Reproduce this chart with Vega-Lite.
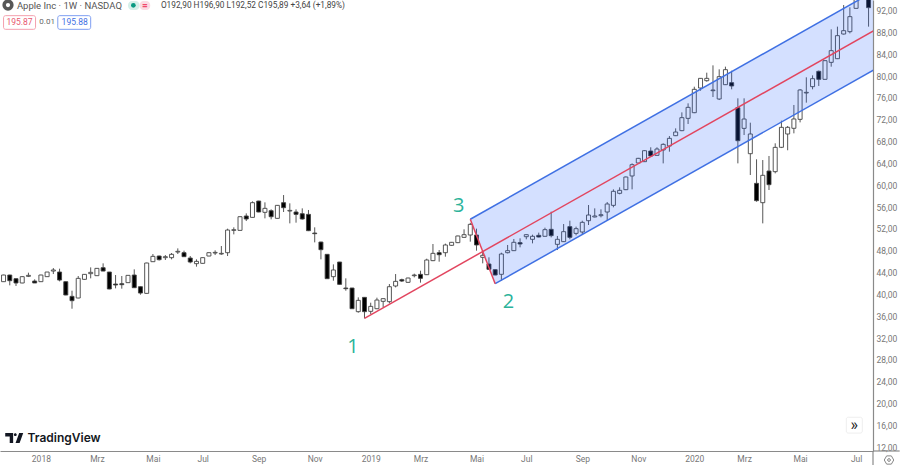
{
  "$schema": "https://vega.github.io/schema/vega-lite/v6.json",
  "width": 873, "height": 451,
  "autosize": "none",
  "padding": {"left": 0, "top": 0, "right": 27, "bottom": 14},
  "background": "#ffffff",
  "view": {"stroke": null},
  "config": {"font": "Roboto"},
  "datasets": {
    "candles": [
      {"date":"2017-11-20","open":42.33,"high":43.6,"low":42.3,"close":43.55},
      {"date":"2017-11-27","open":43.55,"high":43.6,"low":41.66,"close":42.51},
      {"date":"2017-12-04","open":42.88,"high":42.9,"low":41.54,"close":42.09},
      {"date":"2017-12-11","open":42.09,"high":43.3,"low":42.05,"close":43.25},
      {"date":"2017-12-18","open":43.31,"high":43.98,"low":43.18,"close":43.49},
      {"date":"2017-12-25","open":42.45,"high":42.76,"low":42.09,"close":42.09},
      {"date":"2018-01-01","open":42.33,"high":43.6,"low":42.3,"close":43.55},
      {"date":"2018-01-08","open":43.25,"high":44.1,"low":43.2,"close":44.1},
      {"date":"2018-01-15","open":44.28,"high":44.83,"low":43.73,"close":44.47},
      {"date":"2018-01-22","open":44.1,"high":44.71,"low":42.39,"close":42.63},
      {"date":"2018-01-29","open":42.33,"high":42.35,"low":39.85,"close":39.89},
      {"date":"2018-02-05","open":39.64,"high":40.68,"low":37.38,"close":38.85},
      {"date":"2018-02-12","open":39.34,"high":43.37,"low":39.3,"close":42.94},
      {"date":"2018-02-19","open":42.76,"high":43.7,"low":42.7,"close":43.67},
      {"date":"2018-02-26","open":43.8,"high":44.95,"low":42.94,"close":44.04},
      {"date":"2018-03-05","open":43.43,"high":44.8,"low":43.4,"close":44.77},
      {"date":"2018-03-12","open":44.89,"high":45.69,"low":44.25,"close":44.28},
      {"date":"2018-03-19","open":44.1,"high":44.12,"low":40.95,"close":40.99},
      {"date":"2018-03-26","open":41.9,"high":43.55,"low":41.11,"close":41.72},
      {"date":"2018-04-02","open":41.96,"high":43.37,"low":41.05,"close":41.78},
      {"date":"2018-04-09","open":42.15,"high":43.5,"low":42.1,"close":43.49},
      {"date":"2018-04-16","open":43.55,"high":44.59,"low":41.2,"close":41.23},
      {"date":"2018-04-23","open":41.41,"high":41.45,"low":39.95,"close":40.25},
      {"date":"2018-04-30","open":40.19,"high":45.8,"low":40.15,"close":45.75},
      {"date":"2018-05-07","open":45.99,"high":47.4,"low":45.95,"close":46.97},
      {"date":"2018-05-14","open":47.03,"high":47.1,"low":46.2,"close":46.36},
      {"date":"2018-05-21","open":46.73,"high":47.21,"low":46.3,"close":46.91},
      {"date":"2018-05-28","open":46.73,"high":47.58,"low":46.42,"close":47.34},
      {"date":"2018-06-04","open":47.76,"high":48.43,"low":47.4,"close":47.89},
      {"date":"2018-06-11","open":47.64,"high":48.01,"low":46.9,"close":46.91},
      {"date":"2018-06-18","open":46.66,"high":47.03,"low":45.69,"close":45.93},
      {"date":"2018-06-25","open":45.63,"high":46.42,"low":45.08,"close":46.05},
      {"date":"2018-07-02","open":45.69,"high":46.75,"low":45.65,"close":46.73},
      {"date":"2018-07-09","open":47.03,"high":47.7,"low":47,"close":47.64},
      {"date":"2018-07-16","open":47.58,"high":48.07,"low":47.21,"close":47.7},
      {"date":"2018-07-23","open":47.4,"high":48.86,"low":47.27,"close":47.52},
      {"date":"2018-07-30","open":47.64,"high":52.04,"low":47.03,"close":51.79},
      {"date":"2018-08-06","open":51.73,"high":52.28,"low":51,"close":51.85},
      {"date":"2018-08-13","open":51.73,"high":54.3,"low":51.7,"close":54.23},
      {"date":"2018-08-20","open":54.36,"high":54.84,"low":53.44,"close":53.81},
      {"date":"2018-08-27","open":54.11,"high":57.04,"low":54.1,"close":56.8},
      {"date":"2018-09-03","open":57.1,"high":57.15,"low":55.05,"close":55.09},
      {"date":"2018-09-10","open":55.03,"high":56.86,"low":53.93,"close":55.76},
      {"date":"2018-09-17","open":55.33,"high":55.58,"low":53.75,"close":54.23},
      {"date":"2018-09-24","open":53.93,"high":56.35,"low":53.9,"close":56.31},
      {"date":"2018-10-01","open":56.8,"high":58.2,"low":55.09,"close":55.88},
      {"date":"2018-10-08","open":55.27,"high":56.68,"low":53.01,"close":55.39},
      {"date":"2018-10-15","open":55.09,"high":55.58,"low":53.14,"close":54.66},
      {"date":"2018-10-22","open":54.78,"high":55.76,"low":53.7,"close":53.81},
      {"date":"2018-10-29","open":54.66,"high":55.46,"low":51.6,"close":51.67},
      {"date":"2018-11-05","open":51.24,"high":52.28,"low":49.53,"close":51.12},
      {"date":"2018-11-12","open":49.59,"high":49.65,"low":46.42,"close":48.19},
      {"date":"2018-11-19","open":47.34,"high":47.4,"low":42.85,"close":42.88},
      {"date":"2018-11-26","open":43.25,"high":45.5,"low":42.51,"close":44.47},
      {"date":"2018-12-03","open":45.93,"high":45.95,"low":41.8,"close":41.84},
      {"date":"2018-12-10","open":41.17,"high":42.94,"low":40.68,"close":41.05},
      {"date":"2018-12-17","open":41.17,"high":41.2,"low":37.35,"close":37.38},
      {"date":"2018-12-24","open":36.84,"high":39.46,"low":36.65,"close":38.91},
      {"date":"2018-12-31","open":39.46,"high":39.5,"low":35.61,"close":36.84},
      {"date":"2019-01-07","open":36.9,"high":38.48,"low":36.41,"close":37.81},
      {"date":"2019-01-14","open":37.38,"high":39.4,"low":37.3,"close":38.97},
      {"date":"2019-01-21","open":38.73,"high":39.25,"low":37.63,"close":39.22},
      {"date":"2019-01-28","open":38.67,"high":41.9,"low":38.36,"close":41.41},
      {"date":"2019-02-04","open":41.54,"high":43.73,"low":41.29,"close":42.39},
      {"date":"2019-02-11","open":42.7,"high":42.88,"low":42.27,"close":42.45},
      {"date":"2019-02-18","open":42.21,"high":43.05,"low":42.15,"close":43},
      {"date":"2019-02-25","open":43.43,"high":43.8,"low":43.12,"close":43.55},
      {"date":"2019-03-04","open":43.67,"high":44.34,"low":42.15,"close":42.94},
      {"date":"2019-03-11","open":43.61,"high":46.54,"low":43.55,"close":46.3},
      {"date":"2019-03-18","open":46.18,"high":49.23,"low":46.1,"close":47.52},
      {"date":"2019-03-25","open":47.64,"high":48.13,"low":45.99,"close":47.27},
      {"date":"2019-04-01","open":47.64,"high":49.3,"low":46.91,"close":49.05},
      {"date":"2019-04-08","open":48.99,"high":49.6,"low":48.9,"close":49.54},
      {"date":"2019-04-15","open":49.48,"high":50.75,"low":49.4,"close":50.7},
      {"date":"2019-04-22","open":50.45,"high":51.92,"low":50.4,"close":50.94},
      {"date":"2019-04-29","open":50.88,"high":53.1,"low":49.66,"close":52.83},
      {"date":"2019-05-06","open":50.88,"high":52.04,"low":48.01,"close":49.05},
      {"date":"2019-05-13","open":46.79,"high":47.83,"low":45.69,"close":47.16},
      {"date":"2019-05-20","open":45.57,"high":46.79,"low":44.55,"close":44.59},
      {"date":"2019-05-27","open":44.53,"high":44.6,"low":43.5,"close":43.55},
      {"date":"2019-06-03","open":43.68,"high":47.64,"low":42.52,"close":47.4},
      {"date":"2019-06-10","open":47.64,"high":49.05,"low":47.52,"close":48.01},
      {"date":"2019-06-17","open":48.01,"high":50.15,"low":47.95,"close":49.54},
      {"date":"2019-06-24","open":49.48,"high":50.27,"low":48.62,"close":49.23},
      {"date":"2019-07-01","open":50.57,"high":51,"low":50.09,"close":50.94},
      {"date":"2019-07-08","open":50.09,"high":50.94,"low":49.35,"close":50.64},
      {"date":"2019-07-15","open":50.82,"high":51.31,"low":50.45,"close":50.51},
      {"date":"2019-07-22","open":50.64,"high":52.22,"low":50.6,"close":51.86},
      {"date":"2019-07-29","open":51.92,"high":55.15,"low":50.45,"close":50.76},
      {"date":"2019-08-05","open":49.17,"high":50.7,"low":48.13,"close":50.09},
      {"date":"2019-08-12","open":49.66,"high":52.89,"low":49.6,"close":51.49},
      {"date":"2019-08-19","open":52.41,"high":53.5,"low":50.09,"close":50.45},
      {"date":"2019-08-26","open":51.18,"high":52.41,"low":50.82,"close":52.04},
      {"date":"2019-09-02","open":51.43,"high":53.5,"low":51.06,"close":53.2},
      {"date":"2019-09-09","open":53.5,"high":56.37,"low":52.71,"close":54.54},
      {"date":"2019-09-16","open":54.18,"high":55.76,"low":54.11,"close":54.36},
      {"date":"2019-09-23","open":54.42,"high":55.58,"low":54.11,"close":54.6},
      {"date":"2019-09-30","open":55.09,"high":56.92,"low":53.5,"close":56.56},
      {"date":"2019-10-07","open":56.31,"high":59.24,"low":55.95,"close":58.88},
      {"date":"2019-10-14","open":58.51,"high":59.61,"low":58.33,"close":59.06},
      {"date":"2019-10-21","open":59.18,"high":61.6,"low":59.1,"close":61.5},
      {"date":"2019-10-28","open":61.69,"high":64,"low":59.24,"close":63.76},
      {"date":"2019-11-04","open":64.07,"high":65,"low":64,"close":64.92},
      {"date":"2019-11-11","open":64.31,"high":66.4,"low":64.25,"close":66.32},
      {"date":"2019-11-18","open":66.26,"high":66.94,"low":65.3,"close":65.35},
      {"date":"2019-11-25","open":65.47,"high":66.94,"low":65.4,"close":66.63},
      {"date":"2019-12-02","open":66.45,"high":67.67,"low":64,"close":67.48},
      {"date":"2019-12-09","open":67.18,"high":69,"low":66.14,"close":68.58},
      {"date":"2019-12-16","open":69.07,"high":70.41,"low":69,"close":69.74},
      {"date":"2019-12-23","open":69.99,"high":73.34,"low":69.9,"close":72.37},
      {"date":"2019-12-30","open":72.24,"high":74.99,"low":71.21,"close":74.26},
      {"date":"2020-01-06","open":73.28,"high":78.04,"low":73.2,"close":77.56},
      {"date":"2020-01-13","open":77.8,"high":79.6,"low":77.31,"close":79.57},
      {"date":"2020-01-20","open":79.14,"high":80.61,"low":78.96,"close":79.57},
      {"date":"2020-01-27","open":77.31,"high":81.95,"low":76.15,"close":77.43},
      {"date":"2020-02-03","open":75.79,"high":81.22,"low":75.6,"close":79.88},
      {"date":"2020-02-10","open":78.41,"high":81.71,"low":78.35,"close":81.16},
      {"date":"2020-02-17","open":78.78,"high":80.97,"low":77.56,"close":78.17},
      {"date":"2020-02-24","open":74.2,"high":75.91,"low":64,"close":68.15},
      {"date":"2020-03-02","open":70.41,"high":75.91,"low":69.19,"close":72.12},
      {"date":"2020-03-09","open":65.77,"high":71.45,"low":61.87,"close":69.38},
      {"date":"2020-03-16","open":60.34,"high":64.74,"low":56.98,"close":57.17},
      {"date":"2020-03-23","open":56.8,"high":64.61,"low":53.01,"close":61.81},
      {"date":"2020-03-30","open":62.6,"high":65.35,"low":59.12,"close":60.1},
      {"date":"2020-04-06","open":62.48,"high":67.67,"low":62.17,"close":66.93},
      {"date":"2020-04-13","open":66.94,"high":71.82,"low":66.8,"close":70.6},
      {"date":"2020-04-20","open":69.38,"high":70.84,"low":66.4,"close":70.6},
      {"date":"2020-04-27","open":70.42,"high":74.69,"low":69.5,"close":72.13},
      {"date":"2020-05-04","open":72.06,"high":77.6,"low":71.51,"close":77.44},
      {"date":"2020-05-11","open":76.89,"high":79.76,"low":75.12,"close":77.01},
      {"date":"2020-05-18","open":78.05,"high":80.12,"low":77.56,"close":79.51},
      {"date":"2020-05-25","open":80.86,"high":81,"low":78.17,"close":79.39},
      {"date":"2020-06-01","open":79.39,"high":82.85,"low":79.35,"close":82.81},
      {"date":"2020-06-08","open":82.5,"high":88.55,"low":81.71,"close":84.64},
      {"date":"2020-06-15","open":83.17,"high":89.04,"low":83.1,"close":87.39},
      {"date":"2020-06-22","open":87.69,"high":93,"low":87.6,"close":88.3},
      {"date":"2020-06-29","open":88.12,"high":92.58,"low":87.81,"close":90.87},
      {"date":"2020-07-06","open":92.39,"high":95,"low":92.39,"close":94.5},
      {"date":"2020-07-13","open":94.6,"high":97,"low":94.3,"close":96},
      {"date":"2020-07-20","open":94.8,"high":95.5,"low":89.04,"close":92.52}
    ],
    "band": [
      {"date":"2019-04-29","upper":53.76,"lower":53.76},
      {"date":"2019-05-27","upper":56.34,"lower":41.96},
      {"date":"2020-07-27","upper":95.59,"lower":81.23}
    ],
    "bluelines": [
      {"line":"upper","date":"2019-04-29","price":53.76},
      {"line":"upper","date":"2020-07-27","price":95.59},
      {"line":"lower","date":"2019-05-27","price":41.96},
      {"line":"lower","date":"2020-07-27","price":81.23}
    ],
    "redlines": [
      {"line":"median","date":"2018-12-31","price":35.62},
      {"line":"median","date":"2020-07-27","price":88.41},
      {"line":"edge","date":"2019-04-29","price":53.76},
      {"line":"edge","date":"2019-05-27","price":41.96}
    ]
  },
  "encoding": {
    "x": {
      "field": "date", "type": "temporal",
      "scale": {"type": "utc", "domain": ["2017-11-16", "2020-07-25"], "nice": false, "padding": 0},
      "axis": {
        "title": null, "grid": false, "ticks": false, "domainColor": "#8a8a8a", "domainWidth": 1.2,
        "labelColor": "#777777", "labelFontSize": 8.5, "labelPadding": 3, "labelFlush": false, "labelOverlap": false,
        "values": ["2018-01-01","2018-03-05","2018-05-07","2018-07-02","2018-09-03","2018-11-05","2019-01-07","2019-03-04","2019-05-06","2019-07-01","2019-09-02","2019-11-04","2020-01-06","2020-03-02","2020-05-04","2020-07-06"],
        "labelExpr": "utcmonth(datum.value)==0 ? utcyear(datum.value)+'' : ['','','Mrz','','Mai','','Jul','','Sep','','Nov'][utcmonth(datum.value)]"
      }
    },
    "y": {
      "field": "price", "type": "quantitative",
      "scale": {"domain": [11.32, 93.92], "nice": false, "zero": false},
      "axis": {
        "orient": "right", "title": null, "grid": false, "ticks": false, "domainColor": "#8a8a8a", "domainWidth": 1.2,
        "labelColor": "#777777", "labelFontSize": 8.5, "labelPadding": 3, "labelFlush": false, "labelOverlap": false,
        "values": [12,16,20,24,28,32,36,40,44,48,52,56,60,64,68,72,76,80,84,88,92],
        "labelExpr": "replace(format(datum.value,'.2f'),'.',',')"
      }
    }
  },
  "layer": [
    {
      "data": {"name": "candles"},
      "mark": {"type": "rule", "color": "#444444", "strokeWidth": 0.9, "clip": true},
      "encoding": {
        "y": {"field": "low", "type": "quantitative", "scale": {"domain": [11.32, 93.92], "nice": false, "zero": false}, "title": null},
        "y2": {"field": "high"}
      }
    },
    {
      "data": {"name": "candles"},
      "mark": {"type": "bar", "size": 4, "stroke": "#444444", "strokeWidth": 0.9, "clip": true},
      "encoding": {
        "y": {"field": "open", "type": "quantitative", "scale": {"domain": [11.32, 93.92], "nice": false, "zero": false}, "title": null},
        "y2": {"field": "close"},
        "fill": {"condition": {"test": "datum.close >= datum.open", "value": "#ffffff"}, "value": "#000000"}
      }
    },
    {
      "data": {"name": "band"},
      "mark": {"type": "area", "color": "#2962ff", "opacity": 0.2, "clip": true},
      "encoding": {
        "y": {"field": "upper", "type": "quantitative", "scale": {"domain": [11.32, 93.92], "nice": false, "zero": false}, "title": null},
        "y2": {"field": "lower"}
      }
    },
    {
      "data": {"name": "bluelines"},
      "mark": {"type": "line", "color": "#3f70e3", "strokeWidth": 1.5, "clip": true},
      "encoding": {"detail": {"field": "line"}}
    },
    {
      "data": {"name": "redlines"},
      "mark": {"type": "line", "color": "#e2455f", "strokeWidth": 1.5, "clip": true},
      "encoding": {"detail": {"field": "line"}}
    },
    {
      "data": {"values": [
        {"date":"2018-12-18","price":30.4,"label":"1"},
        {"date":"2019-06-11","price":38.65,"label":"2"},
        {"date":"2019-04-16","price":56.25,"label":"3"}
      ]},
      "mark": {"type": "text", "font": "Open Sans", "fontSize": 20, "color": "#2bb39a"},
      "encoding": {"text": {"field": "label"}}
    },
    {
      "data": {"values": [{"date":"2017-12-05","price":92.82,"label":"Apple Inc · 1W · NASDAQ"}]},
      "mark": {"type": "text", "align": "left", "fontSize": 9.5, "color": "#555555"},
      "encoding": {"text": {"field": "label"}}
    },
    {
      "data": {"values": [{"date":"2018-05-16","price":92.82,"label":"O192,90  H196,90  L192,52  C195,89  +3,64 (+1,89%)"}]},
      "mark": {"type": "text", "align": "left", "fontSize": 8.3, "color": "#444444"},
      "encoding": {"text": {"field": "label"}}
    },
    {
      "data": {"values": [{"date":"2017-11-25","price":93}]},
      "mark": {"type": "point", "filled": false, "stroke": "#111111", "strokeWidth": 3.5, "size": 60}
    },
    {
      "data": {"values": [{"date":"2018-04-09","date2":"2018-04-22","price":93.74,"price2":92.09}]},
      "mark": {"type": "rect", "color": "#d5efe9", "cornerRadius": 4},
      "encoding": {"x2": {"field": "date2"}, "y2": {"field": "price2"}}
    },
    {
      "data": {"values": [{"date":"2018-04-22","date2":"2018-05-04","price":93.74,"price2":92.09}]},
      "mark": {"type": "rect", "color": "#fbdbe3", "cornerRadius": 4},
      "encoding": {"x2": {"field": "date2"}, "y2": {"field": "price2"}}
    },
    {
      "data": {"values": [{"date":"2018-04-15","price":92.95}]},
      "mark": {"type": "point", "filled": true, "color": "#089981", "size": 22, "opacity": 1}
    },
    {
      "data": {"values": [{"date":"2018-04-28","price":92.9,"label":"="}]},
      "mark": {"type": "text", "fontSize": 10, "fontWeight": "bold", "color": "#f0476b"},
      "encoding": {"text": {"field": "label"}}
    },
    {
      "data": {"values": [{"date":"2017-11-20","date2":"2017-12-26","price":91.05,"price2":88.55}]},
      "mark": {"type": "rect", "fill": "#ffffff", "stroke": "#f4a0ae", "strokeWidth": 1, "cornerRadius": 2},
      "encoding": {"x2": {"field": "date2"}, "y2": {"field": "price2"}}
    },
    {
      "data": {"values": [{"date":"2018-01-20","date2":"2018-02-26","price":91.05,"price2":88.55}]},
      "mark": {"type": "rect", "fill": "#ffffff", "stroke": "#7f9ff2", "strokeWidth": 1, "cornerRadius": 2},
      "encoding": {"x2": {"field": "date2"}, "y2": {"field": "price2"}}
    },
    {
      "data": {"values": [{"date":"2017-12-08","price":89.8,"label":"195.87"}]},
      "mark": {"type": "text", "fontSize": 8.5, "color": "#e8596f"},
      "encoding": {"text": {"field": "label"}}
    },
    {
      "data": {"values": [{"date":"2018-01-08","price":89.8,"label":"0.01"}]},
      "mark": {"type": "text", "fontSize": 8, "color": "#666666"},
      "encoding": {"text": {"field": "label"}}
    },
    {
      "data": {"values": [{"date":"2018-02-08","price":89.8,"label":"195.88"}]},
      "mark": {"type": "text", "fontSize": 8.5, "color": "#3f70e3"},
      "encoding": {"text": {"field": "label"}}
    },
    {
      "data": {"values": [{"date":"2017-12-17","price":13.7,"label":"TradingView"}]},
      "mark": {"type": "text", "align": "left", "font": "Inter", "fontWeight": 600, "fontSize": 12, "color": "#131722"},
      "encoding": {"text": {"field": "label"}}
    },
    {
      "data": {"values": [{"date":"2017-12-02","price":13.7}]},
      "mark": {"type": "point", "filled": true, "color": "#131722", "opacity": 1, "size": 324, "shape": "M-1,-.55H-.12V.55H-.5V-.18H-1ZM.55,-.55H1L.6,.55H.15ZM.28,-.37A.16,.16 0 1 1 -.04,-.37A.16,.16 0 1 1 .28,-.37Z"}
    },
    {
      "data": {"values": [{"date":"2020-06-25","date2":"2020-07-13","price":17.5,"price2":14.6}]},
      "mark": {"type": "rect", "fill": "#ffffff", "stroke": "#eeeeee", "strokeWidth": 1, "cornerRadius": 2},
      "encoding": {"x2": {"field": "date2"}, "y2": {"field": "price2"}}
    },
    {
      "data": {"values": [{"date":"2020-07-04","price":16.15,"label":"»"}]},
      "mark": {"type": "text", "fontSize": 16, "color": "#222222"},
      "encoding": {"text": {"field": "label"}}
    },
    {
      "data": {"values": [{"date":"2020-07-25","date2":"2020-08-24","price":11.32}]},
      "mark": {"type": "rule", "color": "#8a8a8a", "strokeWidth": 1.2},
      "encoding": {"x2": {"field": "date2"}}
    },
    {
      "data": {"values": [{"date":"2020-07-25","price":11.32,"price2":8.76}]},
      "mark": {"type": "rule", "color": "#8a8a8a", "strokeWidth": 1.2},
      "encoding": {"y2": {"field": "price2"}}
    },
    {
      "data": {"values": [{"date":"2020-08-12","price":9.67}]},
      "mark": {"type": "point", "filled": false, "stroke": "#555555", "strokeWidth": 1, "size": 90, "shape": "M-.5,-.87H.5L1,0L.5,.87H-.5L-1,0ZM.3,0A.3,.3 0 1 1 -.3,0A.3,.3 0 1 1 .3,0Z"}
    }
  ]
}
